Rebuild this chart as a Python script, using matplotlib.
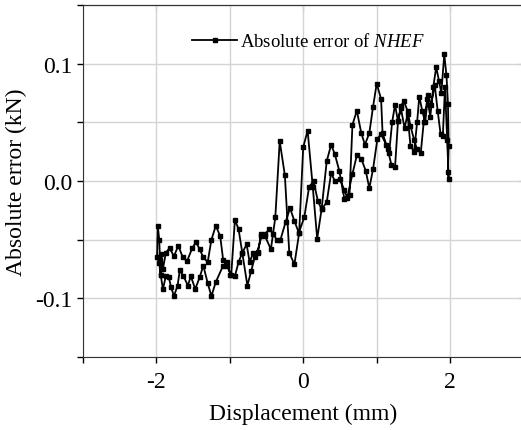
import numpy as np
import matplotlib.pyplot as plt

plt.rcParams['font.family'] = ['Liberation Serif', 'DejaVu Serif']
plt.rcParams['mathtext.fontset'] = 'custom'
plt.rcParams['mathtext.it'] = 'Liberation Serif:italic'
plt.rcParams['mathtext.rm'] = 'Liberation Serif'
plt.rcParams['axes.unicode_minus'] = False

# branch going up (-2 -> 2)
x_up = [-1.99, -1.98, -1.96, -1.95, -1.94, -1.93, -1.91, -1.87, -1.82, -1.76,
        -1.70, -1.64, -1.58, -1.51, -1.46, -1.41, -1.36, -1.30, -1.25, -1.19,
        -1.13, -1.09, -1.04, -0.98, -0.93, -0.88, -0.83, -0.77, -0.73, -0.68,
        -0.62, -0.57, -0.52, -0.44, -0.38, -0.32, -0.25, -0.19, -0.12, -0.055,
        0.0, 0.06, 0.13, 0.19, 0.25, 0.32, 0.38, 0.43, 0.49, 0.56,
        0.63, 0.67, 0.73, 0.79, 0.84, 0.90, 0.95, 1.00, 1.06, 1.08,
        1.15, 1.20, 1.25, 1.29, 1.33, 1.37, 1.42, 1.46, 1.51, 1.55,
        1.60, 1.64, 1.69, 1.73, 1.77, 1.81, 1.85, 1.88, 1.92, 1.95,
        1.97, 1.98, 1.97]
y_up = [-0.065, -0.038, -0.050, -0.067, -0.080, -0.062, -0.075, -0.061, -0.057, -0.064,
        -0.055, -0.065, -0.068, -0.057, -0.052, -0.058, -0.065, -0.069, -0.050, -0.038,
        -0.047, -0.067, -0.072, -0.080, -0.033, -0.041, -0.061, -0.054, -0.069, -0.061,
        -0.061, -0.045, -0.047, -0.058, -0.031, 0.034, 0.005, -0.061, -0.071, -0.044,
        0.029, 0.043, -0.005, -0.049, -0.024, 0.017, 0.031, 0.023, 0.009, -0.015,
        -0.012, 0.048, 0.060, 0.041, 0.031, 0.041, 0.063, 0.083, 0.070, 0.041,
        0.027, 0.014, 0.012, 0.051, 0.064, 0.068, 0.060, 0.047, 0.035, 0.027,
        0.024, 0.050, 0.070, 0.055, 0.080, 0.097, 0.085, 0.075, 0.108, 0.090,
        0.066, 0.030, 0.008]

# branch coming back (2 -> -2)
x_down = [1.98, 1.96, 1.93, 1.90, 1.87, 1.83, 1.79, 1.74, 1.70, 1.66,
          1.62, 1.58, 1.55, 1.51, 1.46, 1.42, 1.38, 1.33, 1.29, 1.25,
          1.21, 1.17, 1.13, 1.06, 1.01, 0.95, 0.90, 0.85, 0.79, 0.73,
          0.67, 0.60, 0.56, 0.50, 0.43, 0.38, 0.32, 0.25, 0.20, 0.14,
          0.08, 0.014, -0.06, -0.12, -0.18, -0.24, -0.31, -0.36, -0.41, -0.46,
          -0.52, -0.57, -0.62, -0.66, -0.71, -0.76, -0.83, -0.88, -0.93, -0.99,
          -1.04, -1.09, -1.19, -1.25, -1.30, -1.36, -1.41, -1.47, -1.53, -1.57,
          -1.63, -1.68, -1.71, -1.76, -1.80, -1.83, -1.87, -1.91, -1.94, -1.96,
          -1.98]
y_down = [0.002, 0.035, 0.080, 0.038, 0.040, 0.060, 0.082, 0.065, 0.073, 0.050,
          0.060, 0.072, 0.050, 0.025, 0.030, 0.057, 0.045, 0.062, 0.051, 0.065,
          0.050, 0.024, 0.031, 0.040, 0.036, 0.010, -0.006, 0.009, 0.019, 0.022,
          0.006, -0.014, -0.008, 0.002, 0.000, 0.007, -0.018, -0.024, -0.017, 0.000,
          -0.005, -0.031, -0.044, -0.034, -0.023, -0.035, -0.050, -0.050, -0.045, -0.041,
          -0.045, -0.047, -0.060, -0.065, -0.077, -0.089, -0.061, -0.069, -0.081, -0.080,
          -0.069, -0.072, -0.086, -0.098, -0.087, -0.072, -0.082, -0.092, -0.081, -0.089,
          -0.081, -0.076, -0.089, -0.098, -0.090, -0.082, -0.081, -0.092, -0.080, -0.070,
          -0.065]

x_all = x_up + x_down
y_all = y_up + y_down

fig = plt.figure(figsize=(5.21, 4.31), dpi=100)
ax = fig.add_axes([0.159, 0.169, 0.846, 0.817])

ax.plot(x_all, y_all, color='black', lw=1.3, marker='s', ms=3.5,
        label=r'Absolute error of $\it{NHEF}$')

ax.set_xlim(-3, 3)
ax.set_ylim(-0.15, 0.15)
ax.set_xticks([-2, 0, 2])
ax.set_xticks([-3, -1, 1, 3], minor=True)
ax.set_yticks([-0.1, 0.0, 0.1])
ax.set_yticklabels(['-0.1', '0.0', '0.1'])
ax.set_yticks([-0.15, -0.05, 0.05, 0.15], minor=True)
ax.grid(True, which='both', color='#d4d4d4', lw=1)
ax.set_axisbelow(True)
ax.tick_params(which='both', direction='out', length=4, width=1, labelsize=17)
ax.tick_params(axis='x', pad=6)

top = ax.secondary_xaxis('top')
top.set_xticks([-2, 0, 2])
top.set_xticks([-3, -1, 1, 3], minor=True)
top.tick_params(which='both', direction='in', length=4, labeltop=False)
right = ax.secondary_yaxis('right')
right.set_yticks([-0.1, 0.0, 0.1])
right.set_yticks([-0.15, -0.05, 0.05, 0.15], minor=True)
right.tick_params(which='both', direction='in', length=4, labelright=False)

for s in ax.spines.values():
    s.set_color('#333333')

ax.set_xlabel('Displacement (mm)', fontsize=17, labelpad=8)
ax.set_ylabel('Absolute error (kN)', fontsize=17, labelpad=6)

ax.legend(loc='upper left', bbox_to_anchor=(0.21, 0.97), frameon=False,
          fontsize=13.5, handlelength=2.4, handletextpad=0.15)

fig.savefig('out.png', dpi=100)
